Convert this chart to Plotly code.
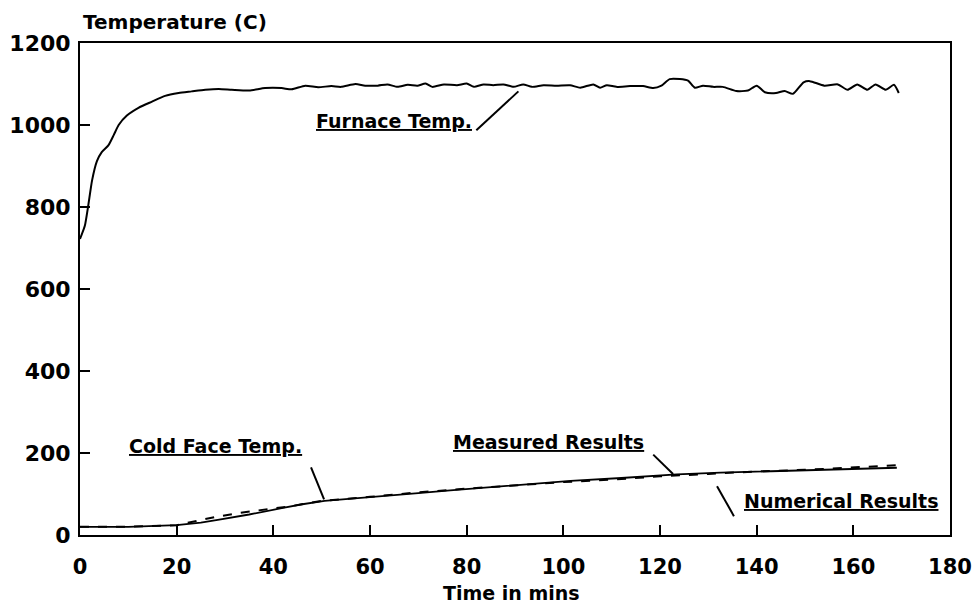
import plotly.graph_objects as go

# ---- data ----
furnace_t = [0, 1.0, 1.7, 2.5, 3.5, 4.5, 5.9, 7.0, 8.0, 9.7, 12.1, 14.9, 17.6, 20.4, 23.1,
             25.9, 28.7, 31.4, 35.0, 38.3, 41.7, 43.8, 46.6, 49.3, 52.0, 54.0, 57.0, 59.0,
             61.6, 63.6, 65.7, 67.8, 69.8, 71.5, 72.9, 75.3, 78.0, 80.0, 81.5, 83.5, 85.5,
             87.6, 89.7, 91.7, 93.5, 95.9, 98.6, 101.4, 103.5, 106.2, 107.6, 109.0, 111.0,
             113.8, 116.5, 118.6, 120.3, 122.0, 124.1, 125.8, 127.2, 128.9, 131.0, 133.0,
             135.8, 138.2, 140.0, 141.7, 144.0, 145.8, 147.5, 149.7, 151.0, 154.0, 156.8,
             158.8, 160.8, 162.9, 164.6, 166.7, 168.4, 169.4]
furnace_T = [722, 754, 803, 865, 912, 934, 951, 976, 1000, 1023, 1042, 1057, 1071, 1078, 1082,
             1086, 1088, 1086, 1084, 1090, 1090, 1087, 1096, 1092, 1095, 1093, 1100, 1096,
             1096, 1099, 1093, 1098, 1096, 1101, 1093, 1099, 1097, 1101, 1093, 1099, 1097,
             1099, 1093, 1099, 1093, 1097, 1096, 1097, 1091, 1099, 1091, 1097, 1093,
             1095, 1095, 1090, 1096, 1112, 1112, 1108, 1091, 1096, 1093, 1093,
             1083, 1084, 1096, 1080, 1078, 1083, 1076, 1104, 1107, 1096, 1099,
             1086, 1099, 1086, 1099, 1086, 1098, 1078]

measured_t = [0, 10, 20, 25, 28.5, 35, 42, 46, 50.6, 56, 63, 70, 76.6, 83.5, 91, 101.5,
              112, 123.5, 132.5, 146, 160, 169]
measured_T = [20, 20, 24, 30, 37, 50, 66, 75, 83, 88, 95, 102, 109, 115, 123, 132,
              139, 148, 152, 157, 162, 164]

numerical_t = [0, 10, 20, 24, 28, 32, 36, 40, 43, 50, 60, 70, 80, 90, 100, 110, 120, 130,
               140, 150, 160, 169]
numerical_T = [20, 20, 24, 34, 44, 52, 59, 65, 69, 83, 93, 104, 113, 121, 129, 135, 143,
               149, 155, 159, 164, 170]

x_ticks = [0, 20, 40, 60, 80, 100, 120, 140, 160, 180]
y_ticks = [0, 200, 400, 600, 800, 1000, 1200]

FONT = "DejaVu Sans"

fig = go.Figure()
fig.add_trace(go.Scatter(x=furnace_t, y=furnace_T, mode="lines",
                         line=dict(color="black", width=2, shape="spline", smoothing=0.6),
                         name="Furnace Temp."))
fig.add_trace(go.Scatter(x=numerical_t, y=numerical_T, mode="lines",
                         line=dict(color="black", width=2, dash="9px,9px"),
                         name="Numerical Results"))
fig.add_trace(go.Scatter(x=measured_t, y=measured_T, mode="lines",
                         line=dict(color="black", width=1.8),
                         name="Measured Results"))

ann_font = dict(family=FONT, size=19, color="black", weight="bold")
labels = [
    ("<u>Furnace Temp.</u>", 65.0, 1010),
    ("<u>Cold Face Temp.</u>", 28.0, 218),
    ("<u>Measured Results</u>", 97.0, 228),
    ("<u>Numerical Results</u>", 157.5, 82),
]
annotations = []
for txt, xx, yy in labels:
    annotations.append(dict(text=txt, x=xx, y=yy, xref="x", yref="y", showarrow=False,
                            xanchor="center", yanchor="middle", font=ann_font))

annotations.append(dict(text="Temperature (C)", xref="paper", yref="paper", x=0, y=1,
                        xanchor="left", yanchor="middle", xshift=1, yshift=21,
                        showarrow=False, font=dict(family=FONT, size=20, color="black", weight="bold")))
annotations.append(dict(text="Time in mins", xref="paper", yref="paper", x=0.5, y=0,
                        xanchor="center", yanchor="middle", xshift=-4, yshift=-58,
                        showarrow=False, font=dict(family=FONT, size=19, color="black", weight="bold")))

leaders = [
    (82.0, 987, 90.7, 1082),
    (47.8, 165, 50.5, 87),
    (118.6, 196, 122.7, 149),
    (131.8, 119, 135.3, 46),
]
shapes = [dict(type="line", xref="x", yref="y", x0=a, y0=b, x1=c, y1=d,
               line=dict(color="black", width=2)) for a, b, c, d in leaders]

axis_common = dict(showgrid=False, zeroline=False, showline=True, linecolor="black",
                   linewidth=2, mirror=True, ticks="inside", ticklen=10, tickwidth=2,
                   tickcolor="black", ticklabeloverflow="allow", automargin=False)

fig.update_layout(
    width=974, height=607,
    margin=dict(l=80, r=24, t=43, b=72),
    paper_bgcolor="white", plot_bgcolor="white",
    showlegend=False,
    annotations=annotations,
    shapes=shapes,
    xaxis=dict(range=[0, 180], tickvals=x_ticks, ticklabelstandoff=12,
               tickfont=dict(family=FONT, size=21, color="black", weight="bold"), **axis_common),
    yaxis=dict(range=[0, 1200], tickvals=y_ticks, ticklabelstandoff=3,
               tickfont=dict(family=FONT, size=22, color="black", weight="bold"), **axis_common),
)

fig.write_html("out.html")
